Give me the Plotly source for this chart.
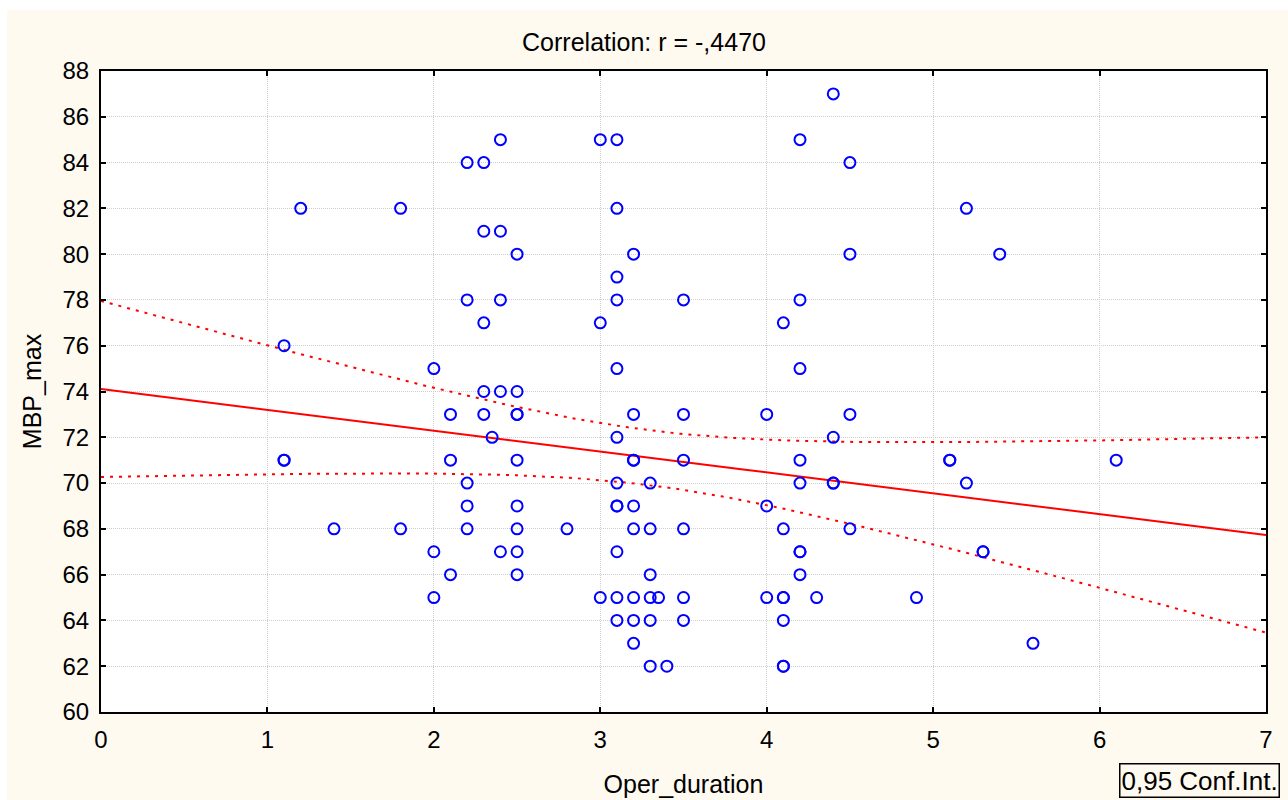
import numpy as np
import plotly.graph_objects as go

oper_duration = [4.4, 2.4, 3.0, 3.1, 4.2, 2.2, 2.3, 4.5, 1.2, 1.8, 3.1, 5.2, 2.3, 2.4, 2.5, 3.2, 4.5, 5.4,
                 3.1, 2.2, 2.4, 3.1, 3.5, 4.2, 2.3, 3.0, 4.1, 1.1, 2.0, 3.1, 4.2, 2.3, 2.4, 2.5,
                 2.1, 2.3, 2.5, 2.5, 3.2, 3.5, 4.0, 4.5, 2.35, 3.1, 4.4,
                 1.1, 1.1, 2.1, 2.5, 3.2, 3.2, 3.5, 4.2, 5.1, 5.1, 6.1,
                 2.2, 3.1, 3.3, 4.2, 4.4, 4.4, 5.2,
                 2.2, 2.5, 3.1, 3.1, 3.2, 4.0,
                 1.4, 1.8, 2.2, 2.5, 2.8, 3.2, 3.3, 3.5, 4.1, 4.5,
                 2.0, 2.4, 2.5, 3.1, 4.2, 4.2, 5.3, 5.3,
                 2.1, 2.5, 3.3, 4.2,
                 2.0, 3.0, 3.1, 3.2, 3.3, 3.35, 3.5, 4.0, 4.1, 4.1, 4.3, 4.9,
                 3.1, 3.2, 3.3, 3.5, 4.1,
                 3.2, 5.6,
                 3.3, 3.4, 4.1, 4.1]
mbp_max = [87, 85, 85, 85, 85, 84, 84, 84, 82, 82, 82, 82, 81, 81, 80, 80, 80, 80,
           79, 78, 78, 78, 78, 78, 77, 77, 77, 76, 75, 75, 75, 74, 74, 74,
           73, 73, 73, 73, 73, 73, 73, 73, 72, 72, 72,
           71, 71, 71, 71, 71, 71, 71, 71, 71, 71, 71,
           70, 70, 70, 70, 70, 70, 70,
           69, 69, 69, 69, 69, 69,
           68, 68, 68, 68, 68, 68, 68, 68, 68, 68,
           67, 67, 67, 67, 67, 67, 67, 67,
           66, 66, 66, 66,
           65, 65, 65, 65, 65, 65, 65, 65, 65, 65, 65, 65,
           64, 64, 64, 64, 64,
           63, 63,
           62, 62, 62, 62]

# regression line and 95% confidence band parameters
reg_intercept = 74.11
reg_slope = -0.911
ci_center_x = 3.30        # x where the band is narrowest
ci_min_half = 1.20        # half-width of band at its narrowest
ci_curvature = 1.224      # growth of squared half-width with (x - center)^2

x_ticks = [0, 1, 2, 3, 4, 5, 6, 7]
y_ticks = list(range(60, 89, 2))
title_text = "Correlation: r = -,4470"
x_title = "Oper_duration"
y_title = "MBP_max"
legend_text = "0,95 Conf.Int."

xs = np.linspace(x_ticks[0], x_ticks[-1], 200)
yhat = reg_intercept + reg_slope * xs
half = np.sqrt(ci_min_half ** 2 + ci_curvature * (xs - ci_center_x) ** 2)

cream = "#FFFAF0"
font = "Liberation Sans, Arial, sans-serif"

fig = go.Figure()
fig.add_trace(go.Scatter(x=xs, y=yhat, mode="lines", line=dict(color="#FF0000", width=2),
                         showlegend=False))
fig.add_trace(go.Scatter(x=xs, y=yhat + half, mode="lines",
                         line=dict(color="#FF0000", width=2, dash="3px,6px"), showlegend=False))
fig.add_trace(go.Scatter(x=xs, y=yhat - half, mode="lines",
                         line=dict(color="#FF0000", width=2, dash="3px,6px"), showlegend=False))
fig.add_trace(go.Scatter(x=oper_duration, y=mbp_max, mode="markers",
                         marker=dict(symbol="circle-open", size=11, color="#0000FF",
                                     line=dict(width=2, color="#0000FF")),
                         cliponaxis=False, showlegend=False))

axis_common = dict(showline=True, linecolor="black", linewidth=2, mirror="allticks",
                   ticks="inside", ticklen=5, tickwidth=2, tickcolor="black",
                   showgrid=True, gridcolor="#cfcfcf", griddash="1px,1px", gridwidth=1,
                   zeroline=False, automargin=False,
                   tickfont=dict(family=font, size=24, color="black"))

fig.update_xaxes(range=[0, 7], tickvals=x_ticks, ticktext=[str(v) for v in x_ticks],
                 ticklabelstandoff=5,
                 title=dict(text=x_title, font=dict(family=font, size=25, color="black"), standoff=24),
                 **axis_common)
fig.update_yaxes(range=[60, 88], tickvals=y_ticks, ticktext=[str(v) for v in y_ticks],
                 ticklabelstandoff=5,
                 title=dict(text=y_title, font=dict(family=font, size=25, color="black"), standoff=14),
                 **axis_common)

fig.update_layout(
    width=1288, height=800,
    margin=dict(l=101, r=22, t=71, b=88, autoexpand=False),
    paper_bgcolor=cream, plot_bgcolor="white",
    title=dict(text=title_text, x=0.5, xanchor="center", y=1 - 42 / 800, yanchor="middle",
               font=dict(family=font, size=25, color="black")),
    shapes=[
        dict(type="rect", xref="paper", yref="paper", x0=-0.2, x1=1.1, y0=(712 - 10) / 641, y1=1.2,
             fillcolor="white", line=dict(width=0), layer="above"),
        dict(type="rect", xref="paper", yref="paper", x0=-0.2, x1=(7 - 101) / 1165, y0=-0.2, y1=1.2,
             fillcolor="white", line=dict(width=0), layer="above"),
    ],
    annotations=[
        dict(text=legend_text, xref="paper", yref="paper", x=(1280 - 101) / 1165, y=(712 - 798) / 641,
             xanchor="right", yanchor="bottom", showarrow=False,
             font=dict(family=font, size=26, color="black"),
             bordercolor="black", borderwidth=1.5, borderpad=1, bgcolor=cream),
    ],
)

fig.write_html("out.html")
